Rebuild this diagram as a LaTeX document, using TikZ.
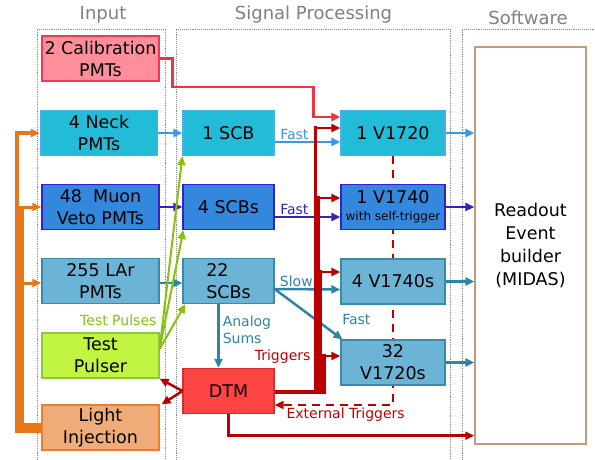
\documentclass[tikz,border=0pt]{standalone}
\usepackage{fontspec}
\setmainfont{DejaVu Sans}
\usetikzlibrary{arrows.meta, positioning, calc, backgrounds}

\definecolor{calfill}{RGB}{255,142,155}
\definecolor{caldraw}{RGB}{238,58,85}
\definecolor{calline}{RGB}{238,51,68}
\definecolor{neckfill}{RGB}{34,188,216}
\definecolor{neckdraw}{RGB}{74,174,234}
\definecolor{neckline}{RGB}{51,153,238}
\definecolor{muonfill}{RGB}{51,136,221}
\definecolor{muondraw}{RGB}{51,34,204}
\definecolor{muonline}{RGB}{51,34,187}
\definecolor{larfill}{RGB}{107,180,214}
\definecolor{lardraw}{RGB}{58,138,171}
\definecolor{larline}{RGB}{46,132,166}
\definecolor{pulsefill}{RGB}{194,245,66}
\definecolor{pulsedraw}{RGB}{141,198,63}
\definecolor{pulseline}{RGB}{136,192,16}
\definecolor{lightfill}{RGB}{240,172,120}
\definecolor{lightdraw}{RGB}{232,127,44}
\definecolor{lightline}{RGB}{229,119,24}
\definecolor{dtmfill}{RGB}{255,68,68}
\definecolor{dtmdraw}{RGB}{208,48,48}
\definecolor{trigred}{RGB}{187,0,0}
\definecolor{readdraw}{RGB}{196,154,124}
\definecolor{headgray}{RGB}{128,128,128}
\definecolor{framegray}{RGB}{140,140,140}

\begin{document}
\begin{tikzpicture}[x=1pt, y=-1pt,
    box/.style={draw, line width=1.2pt, inner sep=0pt, align=center, minimum height=45pt, font=\fontsize{17.5}{22}\selectfont},
    inbox/.style={box, minimum width=117pt},
    scbbox/.style={box, minimum width=91pt},
    digbox/.style={box, minimum width=104pt},
    lbl/.style={font=\fontsize{14}{17}\selectfont, inner sep=1pt},
    head/.style={font=\fontsize{18}{20}\selectfont, text=headgray},
    frame/.style={draw=framegray, densely dotted, line width=0.9pt},
    arr/.style={-{Triangle[length=9pt,width=8pt]}, line width=2.5pt}]
    \useasboundingbox (0,0) rectangle (595,460);

    % columns
    \node[head] (hin) at (103,15) {Input};
    \node[head] (hsig) at (313.5,15) {Signal Processing};
    \node[head] (hsoft) at (528,18) {Software};
    \draw[frame] (37,460) |- (165,29) -- (165,460);
    \draw[frame] (176,460) |- (450,29) -- (450,460);
    \draw[frame] (462,460) |- (595,29);

    % input
    \node[inbox, fill=calfill, draw=caldraw] (cal) at (100.5,58.5) {2 Calibration\\PMTs};
    \node[inbox, fill=neckfill, draw=neckdraw] (neck) at (99,133) {4 Neck\\PMTs};
    \node[inbox, fill=muonfill, draw=muondraw] (muon) at (100.5,207) {48\ \ Muon\\Veto PMTs};
    \node[inbox, fill=larfill, draw=lardraw] (lar) at (100.5,281) {255 LAr\\PMTs};
    \node[inbox, fill=pulsefill, draw=pulsedraw] (pulser) at (100.5,355.5) {Test\\Pulser};
    \node[inbox, fill=lightfill, draw=lightdraw] (light) at (100.5,427.5) {Light\\Injection};

    % signal processing
    \node[scbbox, fill=neckfill, draw=neckdraw] (scb1) at (228.5,133) {1 SCB};
    \node[scbbox, fill=muonfill, draw=muondraw] (scb4) at (228.5,207) {4 SCBs};
    \node[scbbox, fill=larfill, draw=lardraw, align=left] (scb22) at (228.5,281) {22\\SCBs};
    \node[scbbox, fill=dtmfill, draw=dtmdraw] (dtm) at (228.5,391) {DTM};
    \node[digbox, fill=neckfill, draw=neckdraw] (v1720) at (393,133) {1 V1720};
    \node[digbox, fill=muonfill, draw=muondraw] (v1740) at (393,207) {1 V1740\\[-5pt]{\fontsize{12}{14}\selectfont with self-trigger}};
    \node[digbox, fill=larfill, draw=lardraw] (v1740s) at (393,281.5) {4 V1740s};
    \node[digbox, fill=larfill, draw=lardraw] (v1720s) at (393,362.5) {32\\V1720s};

    % software
    \node[draw=readdraw, line width=1.4pt, minimum width=111pt, minimum height=397pt, align=center,
          font=\fontsize{17.5}{23}\selectfont] (readout) at (530.5,245.5) {Readout\\Event\\builder\\(MIDAS)};

    % calibration
    \draw[arr, calline] (cal.east) -- ++(13,0) -- ++(0,28.5) -- ++(141,0) |- ([yshift=16pt]v1720.west);

    % neck, muon veto, LAr
    \draw[arr, neckline] (neck) -- (scb1);
    \draw[arr, neckline] ([yshift=-9pt]scb1.east) -- node[lbl, above, pos=0.3] {Fast} ([yshift=-9pt]v1720.west);
    \draw[arr, muonline] (muon) -- (scb4);
    \draw[arr, muonline] ([yshift=-10pt]scb4.east) -- node[lbl, above, pos=0.3] {Fast} ([yshift=-10pt]v1740.west);
    \draw[arr, larline] ([yshift=-2pt]lar.east) -- ([yshift=-2pt]scb22.west);
    \draw[arr, larline] ([yshift=-8pt]scb22.east) -- node[lbl, above, pos=0.33] {Slow} ([yshift=-8pt]v1740s.west);
    \draw[arr, larline] ([yshift=-8pt]scb22.east) -- ([xshift=2pt]v1720s.north west);
    \node[lbl, text=larline] (fastlar) at ($(v1720s.north west)+(16,-20)$) {Fast};
    \draw[arr, larline] ([xshift=-10pt]scb22.south) -- node[lbl, right, align=left, pos=0.4, xshift=2pt] {Analog\\Sums} ([xshift=-10pt]dtm.north);

    % to readout
    \draw[arr, neckline] (v1720.east) -- (v1720.east -| readout.west);
    \draw[arr, muonline] (v1740.east) -- (v1740.east -| readout.west);
    \foreach \d in {v1740s, v1720s}
        \draw[arr, larline] (\d.east) -- (\d.east -| readout.west);

    % test pulses
    \foreach \t/\s in {scb1/0, scb4/1, scb22/3}
        \draw[arr, pulseline, line width=2pt] ([yshift=6.5pt]pulser.east) -- ([xshift=\s pt]\t.south west);
    \node[lbl, text=pulseline, anchor=south east] (tplbl) at ($(pulser.north east)+(-2,-6)$) {Test Pulses};

    % light injection
    \coordinate (ok) at ($(light.west)+(-26,0)$);
    \draw[lightline, line width=10pt] (light.west) -- (ok);
    \draw[lightline, line width=4pt] ($(ok)+(2,4)$) -- ($(ok |- neck.west)+(2,-2)$);
    \draw[lightline, line width=9pt] ($(ok)+(4.5,4)$) -- ($(ok |- muon.west)+(4.5,-1.5)$);
    \draw[arr, lightline, line width=4pt] (ok |- neck.west) -- (neck.west);
    \draw[arr, lightline, line width=3pt] ($(ok |- muon.west)+(8,0)$) -- (muon.west);
    \draw[arr, lightline, line width=3pt] ($(ok |- lar.west)+(8,2)$) -- ([yshift=-2pt]lar.west);

    % DTM outputs
    \draw[arr, trigred] (dtm.west) -- (pulser.south east);
    \draw[arr, trigred] (dtm.west) -- ([xshift=2pt]light.north east);
    \draw[arr, trigred] (dtm.south) |- ($(readout.south west)+(0,-9)$);

    % triggers
    \coordinate (tk) at ($(dtm.east)+(39,0)$);
    \coordinate (b1) at ([yshift=5pt]v1720.west);
    \coordinate (b2) at ([yshift=9pt]v1740.west);
    \coordinate (b3) at ([yshift=9.5pt]v1740s.west);
    \coordinate (b4) at ([yshift=6.5pt]v1720s.west);
    \draw[trigred, line width=4pt] ([yshift=-1pt]dtm.east) -- ($(tk)+(6,1)$);
    \foreach \b/\w in {b1/3.5, b2/6, b3/8.5, b4/12}
        \draw[trigred, line width=\w pt] ($(tk)+(\w/2,3)$) -- ($(tk |- \b)+(\w/2,-1.75)$);
    \foreach \b in {b1, b2, b3, b4}
        \draw[arr, trigred] (tk |- \b) -- (\b);
    \node[lbl, text=trigred, anchor=east] (triglbl) at ($(tk |- b4)+(-2,1)$) {Triggers};

    % external triggers
    \begin{scope}[on background layer]
        \draw[arr, trigred, line width=1.5pt, dash pattern=on 8pt off 6pt] (v1720.south) |- node[lbl, below, pos=0.7, yshift=-1pt] {External Triggers} ([yshift=-14pt]dtm.east);
    \end{scope}
\end{tikzpicture}
\end{document}
